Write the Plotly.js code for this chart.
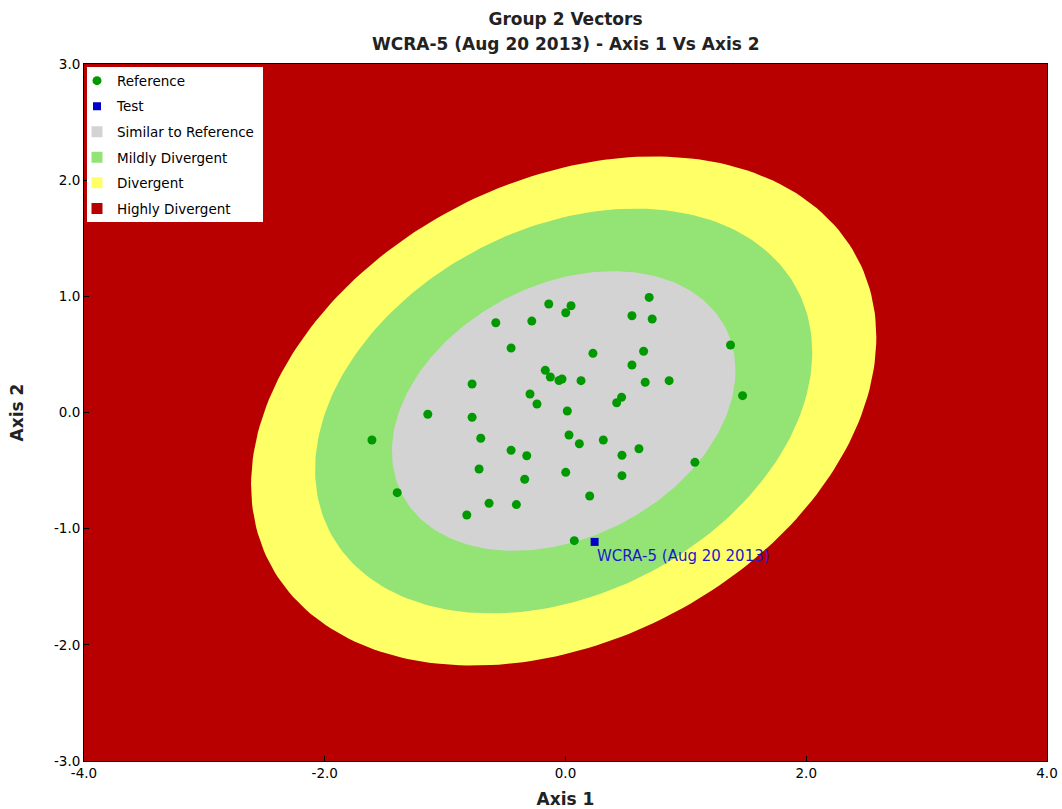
<!DOCTYPE html>
<html>
<head>
<meta charset="utf-8">
<script src="https://cdn.plot.ly/plotly-3.0.1.min.js"></script>
<style>html,body{margin:0;padding:0;background:#fff;}#chart{width:1062px;height:809px;}</style>
</head>
<body>
<div id="chart"></div>
<script>
// ---- data ----
const refX = [-0.139,-0.579,-0.280,-0.452,-0.168,-0.126,-0.054,-0.029,-0.776,-0.295,-0.237,-1.144,-0.776,
  0.695,0.046,0.002,0.552,0.720,1.371,0.228,0.649,0.552,0.129,0.662,0.861,1.471,0.466,0.425,0.015,
  -1.608,-0.704,-0.452,-0.322,-0.718,-0.339,-1.398,-0.635,-0.408,-0.820,
  0.029,0.115,0.314,0.469,0.610,1.075,0.002,0.469,0.201,0.073];
const refY = [0.934,0.773,0.787,0.555,0.363,0.306,0.275,0.288,0.245,0.159,0.073,-0.015,-0.041,
  0.991,0.919,0.859,0.833,0.805,0.581,0.509,0.527,0.409,0.274,0.260,0.274,0.145,0.131,0.084,0.013,
  -0.237,-0.222,-0.325,-0.372,-0.486,-0.575,-0.690,-0.781,-0.793,-0.882,
  -0.194,-0.269,-0.237,-0.368,-0.312,-0.429,-0.515,-0.544,-0.719,-1.103];
const testX = [0.242];
const testY = [-1.114];
const testLabel = ['WCRA-5 (Aug 20 2013)'];

// zone model (ellipse): centre, spread of inner zone, correlation, zone scale factors
const zoneCenter = [-0.015, 0.013];
const zoneSpread = [1.427, 1.204];
const zoneRho = 0.29;
const zoneNames = ['Divergent', 'Mildly Divergent', 'Similar to Reference'];
const zoneScale = [1.82, 1.447, 1.0];
const zoneColors = ['#ffff66', '#93e375', '#d3d3d3'];
const outerName = 'Highly Divergent';
const outerColor = '#b90000';

const titleLines = ['Group 2 Vectors', 'WCRA-5 (Aug 20 2013) - Axis 1 Vs Axis 2'];
const xTitle = 'Axis 1';
const yTitle = 'Axis 2';
const xRange = [-4, 4];
const yRange = [-3, 3];
const xTickVals = [-4, -2, 0, 2, 4];
const xTickText = ['-4.0', '-2.0', '0.0', '2.0', '4.0'];
const yTickVals = [-3, -2, -1, 0, 1, 2, 3];
const yTickText = ['-3.0', '-2.0', '-1.0', '0.0', '1.0', '2.0', '3.0'];

function ellipse(scale) {
  const xs = [], ys = [];
  const s = Math.sqrt(1 - zoneRho * zoneRho);
  for (let i = 0; i <= 240; i++) {
    const t = 2 * Math.PI * i / 240;
    xs.push(zoneCenter[0] + scale * zoneSpread[0] * Math.cos(t));
    ys.push(zoneCenter[1] + scale * zoneSpread[1] * (zoneRho * Math.cos(t) + s * Math.sin(t)));
  }
  return {xs, ys};
}

const traces = [];
zoneScale.forEach((sc, i) => {
  const e = ellipse(sc);
  traces.push({x: e.xs, y: e.ys, type: 'scatter', mode: 'lines', fill: 'toself',
    fillcolor: zoneColors[i], line: {width: 0, color: zoneColors[i]}, showlegend: false, hoverinfo: 'skip'});
});
traces.push({x: refX, y: refY, type: 'scatter', mode: 'markers', name: 'Reference', legendrank: 1,
  legendgroup: 'a', marker: {color: '#009a00', size: 9, symbol: 'circle'}});
traces.push({x: testX, y: testY, type: 'scatter', mode: 'markers', name: 'Test', legendrank: 2,
  legendgroup: 'b', marker: {color: '#0000c8', size: 8, symbol: 'square'}});
const legendZones = [[zoneNames[2], zoneColors[2]], [zoneNames[1], zoneColors[1]], [zoneNames[0], zoneColors[0]], [outerName, outerColor]];
legendZones.forEach((z, i) => {
  traces.push({x: [null], y: [null], type: 'scatter', mode: 'markers', name: z[0], legendrank: 3 + i,
    legendgroup: 'z' + i, marker: {color: z[1], size: 11, symbol: 'square'}});
});

const FONT = 'DejaVu Sans, Verdana, sans-serif';
const axisCommon = {showgrid: false, zeroline: false, showline: true, mirror: true, linecolor: '#000', linewidth: 1,
  ticks: 'inside', ticklen: 5, tickcolor: '#000', tickfont: {family: FONT, size: 13.5, color: '#000'}};

const layout = {
  width: 1062, height: 809,
  margin: {l: 84, r: 15, t: 64, b: 48},
  paper_bgcolor: '#fff', plot_bgcolor: outerColor,
  title: {text: '<b>' + titleLines[0] + '</b>', font: {family: FONT, size: 17, color: '#222'},
    x: 0.5, xref: 'paper', xanchor: 'center', y: 1 - 19 / 809, yref: 'container', yanchor: 'middle'},
  xaxis: Object.assign({}, axisCommon, {range: xRange, tickvals: xTickVals, ticktext: xTickText,
    title: {text: '<b>' + xTitle + '</b>', font: {family: FONT, size: 17, color: '#222'}, standoff: 13}}),
  yaxis: Object.assign({}, axisCommon, {range: yRange, tickvals: yTickVals, ticktext: yTickText,
    title: {text: '<b>' + yTitle + '</b>', font: {family: FONT, size: 17, color: '#222'}, standoff: 26}}),
  legend: {x: -7 / 963, y: 0.998, xanchor: 'left', yanchor: 'top', bgcolor: 'rgba(0,0,0,0)', borderwidth: 0,
    font: {family: FONT, size: 13.5, color: '#000'}, tracegroupgap: 5, itemwidth: 30},
  shapes: [{type: 'rect', xref: 'paper', yref: 'paper', x0: 3 / 963, x1: 179 / 963,
    y0: 1 - 158 / 697, y1: 1 - 3 / 697, fillcolor: '#ffffff', line: {width: 0}, layer: 'above'}],
  annotations: [
    {xref: 'paper', yref: 'paper', x: 0.5, y: 1 + 20 / 697, xanchor: 'center', yanchor: 'middle', showarrow: false,
      text: '<b>' + titleLines[1] + '</b>', font: {family: FONT, size: 17, color: '#222'}},
    {x: testX[0], y: testY[0], xref: 'x', yref: 'y', text: testLabel[0], showarrow: false,
      xanchor: 'left', yanchor: 'top', xshift: 0, yshift: -3,
      font: {family: FONT, size: 15, color: '#1a1acc'}}],
  showlegend: true
};

Plotly.newPlot('chart', traces, layout, {displayModeBar: false, staticPlot: true});
</script>
</body>
</html>
